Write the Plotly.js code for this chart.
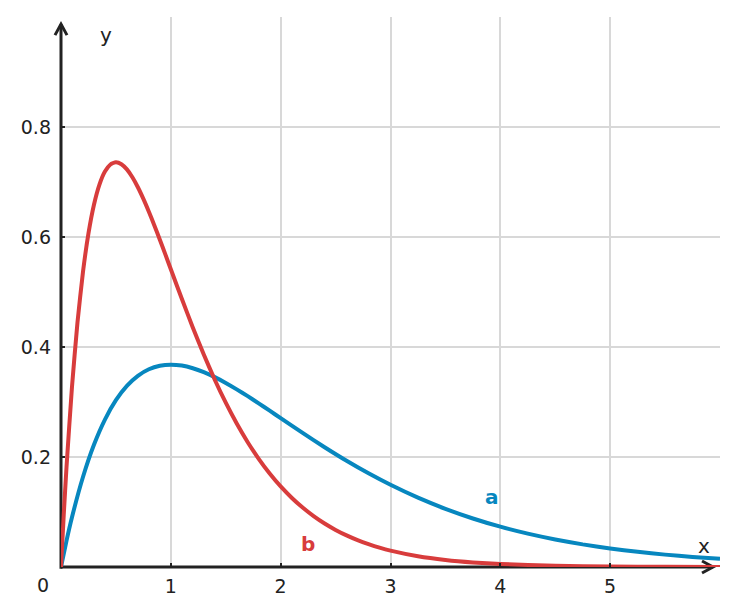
<!DOCTYPE html>
<html>
<head>
<meta charset="utf-8">
<script src="https://cdn.plot.ly/plotly-3.0.1.min.js"></script>
<style>
  html, body { margin: 0; padding: 0; background: #fff; }
  #chart { width: 737px; height: 615px; }
</style>
</head>
<body>
<div id="chart"></div>
<script>
// Curve a: broad hump peaking near x = 1
const xA = [0, 0.05, 0.1, 0.2, 0.3, 0.4, 0.5, 0.6, 0.7, 0.8, 0.9, 1.0, 1.1, 1.2, 1.3, 1.4, 1.5, 1.6, 1.7, 1.8, 1.9, 2.0, 2.2, 2.4, 2.6, 2.8, 3.0, 3.25, 3.5, 3.75, 4.0, 4.25, 4.5, 4.75, 5.0, 5.25, 5.5, 5.75, 6.0];
const yA = [0, 0.0476, 0.0905, 0.1637, 0.2222, 0.2681, 0.3033, 0.3293, 0.3476, 0.3595, 0.3659, 0.3679, 0.3662, 0.3614, 0.3543, 0.3452, 0.3347, 0.3230, 0.3106, 0.2975, 0.2842, 0.2707, 0.2438, 0.2177, 0.1931, 0.1703, 0.1494, 0.1260, 0.1057, 0.0882, 0.0733, 0.0606, 0.0500, 0.0411, 0.0337, 0.0276, 0.0225, 0.0183, 0.0149];

// Curve b: sharp peak near x = 0.5, decaying quickly
const xB = [0, 0.025, 0.05, 0.1, 0.15, 0.2, 0.25, 0.3, 0.35, 0.4, 0.45, 0.5, 0.55, 0.6, 0.65, 0.7, 0.75, 0.8, 0.85, 0.9, 0.95, 1.0, 1.1, 1.2, 1.3, 1.4, 1.5, 1.6, 1.7, 1.8, 1.9, 2.0, 2.1, 2.2, 2.3, 2.4, 2.5, 2.6, 2.7, 2.8, 2.9, 3.0, 3.25, 3.5, 3.75, 4.0, 4.5, 5.0, 5.5, 6.0];
const yB = [0, 0.0951, 0.1810, 0.3275, 0.4445, 0.5363, 0.6065, 0.6586, 0.6952, 0.7189, 0.7318, 0.7358, 0.7324, 0.7229, 0.7086, 0.6905, 0.6694, 0.6461, 0.6211, 0.5951, 0.5684, 0.5413, 0.4876, 0.4355, 0.3862, 0.3405, 0.2987, 0.2609, 0.2269, 0.1967, 0.1700, 0.1465, 0.1260, 0.1081, 0.0925, 0.0790, 0.0674, 0.0574, 0.0488, 0.0415, 0.0351, 0.0297, 0.0195, 0.0128, 0.0083, 0.0054, 0.0022, 0.0009, 0.0004, 0.0001];

// Axis ticks
const xTicks = [1, 2, 3, 4, 5];
const xTickText = ['1', '2', '3', '4', '5'];
const yTicks = [0.2, 0.4, 0.6, 0.8];
const yTickText = ['0.2', '0.4', '0.6', '0.8'];

const blue = '#0787bf';
const red = '#d83c3c';
const ink = '#222222';
const font = 'DejaVu Sans, sans-serif';

const traces = [
  { x: xA, y: yA, mode: 'lines', line: { color: blue, width: 4, shape: 'spline', smoothing: 0.5 }, cliponaxis: false, hoverinfo: 'skip' },
  { x: xB, y: yB, mode: 'lines', line: { color: red, width: 4, shape: 'spline', smoothing: 0.5 }, cliponaxis: false, hoverinfo: 'skip' }
];

// Axis lines with open arrowheads, placed in plot-fraction coordinates
const axisLine = { color: ink, width: 3 };
const shapes = [
  { type: 'line', layer: 'below', xref: 'paper', yref: 'paper', x0: 0, x1: 0, y0: -0.003, y1: 0.987, line: axisLine },
  { type: 'path', layer: 'below', xref: 'paper', yref: 'paper', path: 'M -0.0091,0.967 L 0,0.987 L 0.0091,0.967', line: axisLine },
  { type: 'line', layer: 'below', xref: 'paper', yref: 'paper', x0: 0, x1: 0.9894, y0: 0, y1: 0, line: axisLine },
  { type: 'path', layer: 'below', xref: 'paper', yref: 'paper', path: 'M 0.9727,0.0109 L 0.9894,0 L 0.9727,-0.0109', line: axisLine }
];

const annotations = [
  { text: 'y', x: 0.0683, y: 0.967, xref: 'paper', yref: 'paper', xanchor: 'center', yanchor: 'middle', showarrow: false, font: { family: font, size: 20, color: ink } },
  { text: 'x', x: 0.9757, y: 0.038, xref: 'paper', yref: 'paper', xanchor: 'center', yanchor: 'middle', showarrow: false, font: { family: font, size: 20, color: ink } },
  { text: '0', x: -0.0273, y: -0.0327, xref: 'paper', yref: 'paper', xanchor: 'center', yanchor: 'middle', showarrow: false, font: { family: font, size: 19, color: ink } },
  { text: '<b>a</b>', x: 3.92, y: 0.128, xref: 'x', yref: 'y', xanchor: 'center', yanchor: 'middle', showarrow: false, font: { family: font, size: 20, color: blue } },
  { text: '<b>b</b>', x: 2.245, y: 0.041, xref: 'x', yref: 'y', xanchor: 'center', yanchor: 'middle', showarrow: false, font: { family: font, size: 20, color: red } }
];

const layout = {
  width: 737,
  height: 615,
  margin: { l: 61, r: 17, t: 17, b: 48, pad: 0 },
  paper_bgcolor: '#ffffff',
  plot_bgcolor: 'rgba(0,0,0,0)',
  showlegend: false,
  font: { family: font, size: 19, color: ink },
  xaxis: {
    range: [0, 6],
    tickmode: 'array',
    tickvals: xTicks,
    ticktext: xTickText,
    ticks: 'inside',
    ticklen: 4,
    tickwidth: 2,
    tickcolor: ink,
    ticklabelstandoff: 6,
    showgrid: true,
    gridcolor: '#d8d8d8',
    gridwidth: 2,
    zeroline: false,
    showline: false,
    fixedrange: true,
    tickfont: { family: font, size: 19, color: ink }
  },
  yaxis: {
    range: [0, 1.0],
    tickmode: 'array',
    tickvals: yTicks,
    ticktext: yTickText,
    ticks: 'inside',
    ticklen: 4,
    tickwidth: 2,
    tickcolor: ink,
    ticklabelstandoff: 9,
    showgrid: true,
    gridcolor: '#d8d8d8',
    gridwidth: 2,
    zeroline: false,
    showline: false,
    fixedrange: true,
    tickfont: { family: font, size: 19, color: ink }
  },
  shapes: shapes,
  annotations: annotations
};

Plotly.newPlot('chart', traces, layout, { displayModeBar: false, staticPlot: true });
</script>
</body>
</html>
